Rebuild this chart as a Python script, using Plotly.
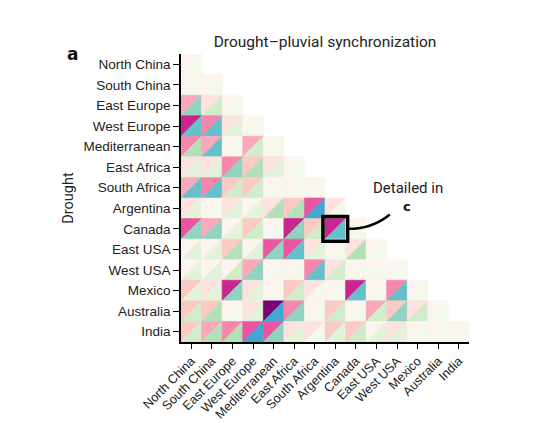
import plotly.graph_objects as go

regions = ["North China", "South China", "East Europe", "West Europe", "Mediterranean",
           "East Africa", "South Africa", "Argentina", "Canada", "East USA", "West USA",
           "Mexico", "Australia", "India"]

# Upper-left triangle intensity (pink scale, 0-7), row i has columns 0..i
pink_levels = [
    [0],
    [0, 0],
    [3, 1, 0],
    [6, 4, 1, 0],
    [4, 3, 0, 3, 0],
    [1, 1, 4, 2, 1, 0],
    [3, 4, 2, 2, 0, 0, 0],
    [1, 0, 1, 0, 1, 2, 5, 1],
    [5, 3, 0, 2, 0, 6, 2, 6, 0],
    [0, 0, 2, 0, 5, 5, 1, 0, 1, 0],
    [0, 0, 0, 3, 0, 0, 4, 1, 0, 0, 0],
    [2, 1, 6, 1, 0, 2, 1, 0, 6, 0, 4, 0],
    [2, 2, 0, 1, 7, 4, 0, 2, 0, 3, 2, 1, 0],
    [2, 3, 4, 5, 5, 1, 1, 2, 2, 0, 1, 0, 0, 0],
]
# Lower-right triangle intensity (green-blue scale, 0-6)
green_levels = [
    [0],
    [0, 0],
    [4, 2, 0],
    [5, 5, 1, 0],
    [3, 5, 0, 2, 0],
    [1, 1, 4, 3, 1, 0],
    [5, 5, 2, 2, 0, 0, 0],
    [1, 0, 1, 1, 3, 3, 6, 0],
    [4, 4, 1, 2, 0, 4, 2, 5, 0],
    [1, 1, 3, 1, 4, 5, 1, 0, 3, 0],
    [1, 1, 2, 4, 0, 0, 5, 2, 0, 0, 0],
    [1, 1, 4, 1, 0, 2, 0, 0, 5, 0, 5, 0],
    [2, 3, 0, 1, 6, 4, 0, 2, 0, 2, 4, 2, 0],
    [2, 3, 3, 6, 4, 1, 0, 1, 2, 1, 1, 0, 0, 0],
]

pink_colors = ["#fdf4f0", "#fde2e0", "#fccac5", "#f9a9ba", "#f587ad", "#ea55a0", "#cc2491", "#7a0177"]
green_colors = ["#f4f9ec", "#e3f3da", "#d0ecc8", "#b2e0b8", "#8fd3c0", "#66c0c9", "#45a5d0"]

highlight = ("Canada", "Argentina")  # (row, column)

fig = go.Figure()
for i, row in enumerate(pink_levels):
    for j, lv in enumerate(row):
        x0, x1 = j - 0.5, j + 0.5
        y0, y1 = i - 0.5, i + 0.5
        fig.add_trace(go.Scatter(x=[x0, x1, x0, x0], y=[y0, y0, y1, y0], mode="lines",
                                 fill="toself", fillcolor=pink_colors[lv],
                                 line=dict(width=0.6, color=pink_colors[lv]),
                                 hoverinfo="skip", showlegend=False))
        g = green_levels[i][j]
        fig.add_trace(go.Scatter(x=[x1, x1, x0, x1], y=[y0, y1, y1, y0], mode="lines",
                                 fill="toself", fillcolor=green_colors[g],
                                 line=dict(width=0.6, color=green_colors[g]),
                                 hoverinfo="skip", showlegend=False))

hi = regions.index(highlight[0])
hj = regions.index(highlight[1])
fig.add_shape(type="rect", x0=hj - 0.6, x1=hj + 0.6, y0=hi - 0.6, y1=hi + 0.6,
              line=dict(color="black", width=3.5), xref="x", yref="y")
fig.add_shape(type="path",
              path=f"M {hj + 0.65},{hi} Q {hj + 1.8},{hi} {hj + 2.65},{hi - 0.7}",
              line=dict(color="black", width=2.5), xref="x", yref="y")

font = "Roboto, Arial, sans-serif"
tickfam = "Liberation Sans, Arial, sans-serif"
fig.add_annotation(x=hj + 3.55, y=hi - 2.0, xref="x", yref="y", text="Detailed in",
                   showarrow=False, font=dict(size=15, color="#222", family=font))
fig.add_annotation(x=hj + 3.5, y=hi - 1.08, xref="x", yref="y", text="<b>c</b>",
                   showarrow=False, font=dict(size=13, color="#111", family="Arial Black, DejaVu Sans"))
fig.add_annotation(x=(65 - 181) / 288, y=1 + (54 - 42) / 288, xref="paper", yref="paper",
                   text="<b>a</b>", showarrow=False,
                   font=dict(size=17, color="#111", family="Arial Black, DejaVu Sans"))

n = len(regions)
fig.update_layout(
    width=533, height=423,
    margin=dict(l=181, r=64, t=54, b=81, autoexpand=False),
    plot_bgcolor="white", paper_bgcolor="white",
    font=dict(family=font, size=12, color="#222"),
    title=dict(text="Drought–pluvial synchronization", x=325 / 533, xanchor="center",
               y=1 - 42 / 423, yanchor="middle", font=dict(size=15.5, color="#222", family=font)),
)
fig.update_xaxes(range=[-0.5, n - 0.5], tickvals=list(range(n)), ticktext=regions,
                 tickangle=-45, showgrid=False, zeroline=False, showline=True, automargin=False,
                 linecolor="black", linewidth=1.5, ticks="outside", ticklen=5,
                 tickcolor="black", tickfont=dict(size=12.6, color="#222", family=tickfam))
fig.update_yaxes(range=[n - 0.5, -0.5], tickvals=list(range(n)), ticktext=regions,
                 showgrid=False, zeroline=False, showline=True, automargin=False,
                 linecolor="black", linewidth=1.5, ticks="outside", ticklen=6,
                 tickcolor="black", tickfont=dict(size=13.5, color="#222", family=tickfam),
                 title=dict(text="Drought", font=dict(size=14.5, color="#222"), standoff=6))

fig.write_html("out.html")
